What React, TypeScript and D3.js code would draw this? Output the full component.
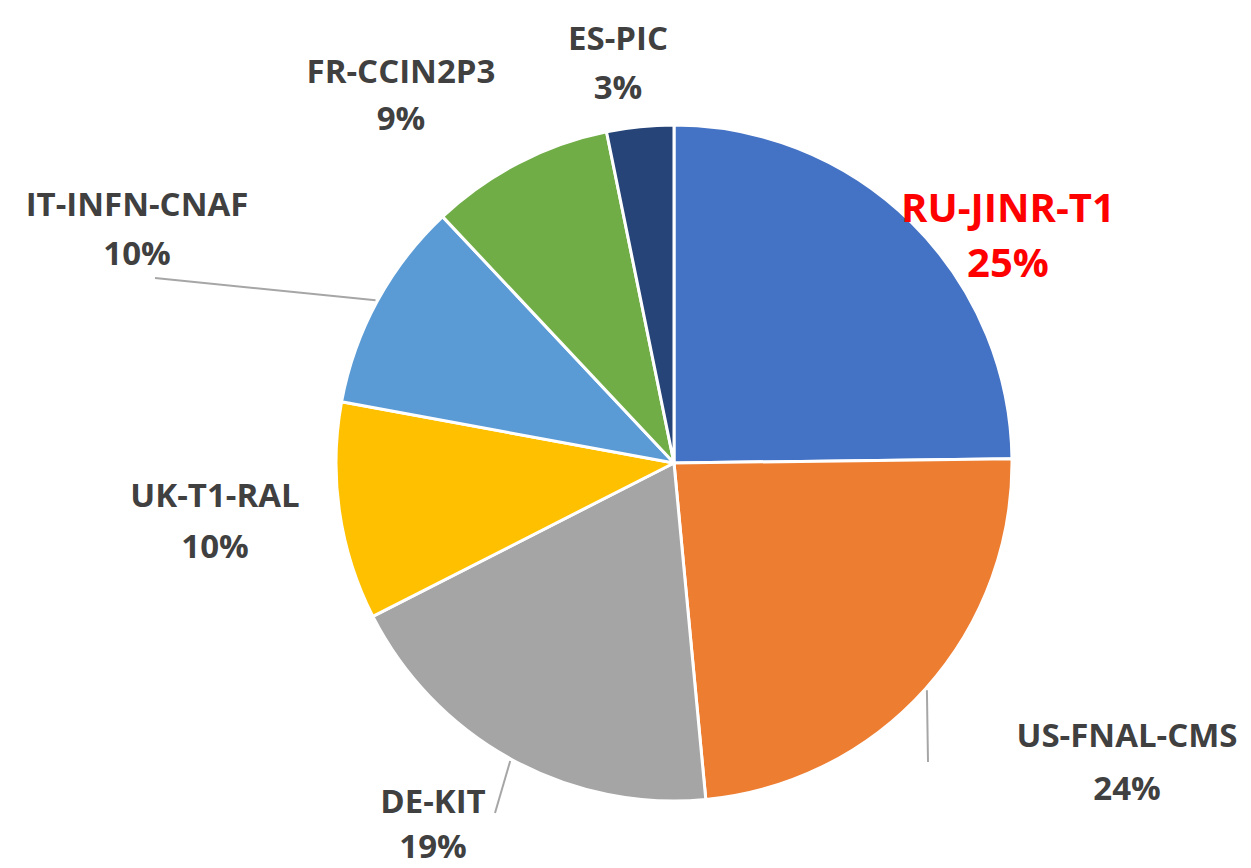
import React, { useEffect, useRef } from 'react';
import * as d3 from 'd3';

// Tier-1 sites and their share
const sites = ['RU-JINR-T1', 'US-FNAL-CMS', 'DE-KIT', 'UK-T1-RAL', 'IT-INFN-CNAF', 'FR-CCIN2P3', 'ES-PIC'];
const shares = [24.8, 23.7, 19.0, 10.4, 10.1, 8.8, 3.2];
const colors = ['#4472C4', '#ED7D31', '#A5A5A5', '#FFC000', '#5B9BD5', '#70AD47', '#264478'];

// label placement (centre x, first baseline) and optional leader end
const labelPos = [
  { x: 1008, y: 222, size: 40, gap: 55, color: '#FF0000' },
  { x: 1127, y: 747, size: 33, gap: 53, color: '#404040', leader: [928, 762] },
  { x: 433, y: 813, size: 33, gap: 45, color: '#404040', leader: [495, 813] },
  { x: 215, y: 507, size: 33, gap: 51, color: '#404040' },
  { x: 137, y: 216, size: 33, gap: 49, color: '#404040', leader: [155, 278] },
  { x: 401, y: 83, size: 33, gap: 47, color: '#404040' },
  { x: 618, y: 50, size: 33, gap: 49, color: '#404040' },
];

const W = 1251;
const H = 868;

export default function App() {
  const svgRef = useRef<SVGSVGElement>(null);

  useEffect(() => {
    const svg = d3.select(svgRef.current);
    svg.selectAll('*').remove();

    const cx = 674, cy = 463, r = 338;
    const data = sites.map((s, i) => ({ site: s, value: shares[i], i }));

    const pie = d3.pie<any>().sort(null).value(d => d.value);
    const arcs = pie(data);
    const arc = d3.arc<any>().innerRadius(0).outerRadius(r);

    const g = svg.append('g').attr('transform', `translate(${cx},${cy})`);

    g.selectAll('path')
      .data(arcs)
      .enter().append('path')
      .attr('d', arc)
      .attr('fill', d => colors[d.data.i])
      .attr('stroke', '#fff')
      .attr('stroke-width', 3)
      .attr('stroke-linejoin', 'round');

    // leader lines
    arcs.forEach(a => {
      const lp = labelPos[a.data.i];
      if (!lp.leader) return;
      const mid = (a.startAngle + a.endAngle) / 2;
      const x0 = cx + Math.sin(mid) * (r + 2);
      const y0 = cy - Math.cos(mid) * (r + 2);
      svg.append('line')
        .attr('x1', x0).attr('y1', y0)
        .attr('x2', lp.leader[0]).attr('y2', lp.leader[1])
        .attr('stroke', '#A6A6A6')
        .attr('stroke-width', 2);
    });

    // labels
    arcs.forEach(a => {
      const lp = labelPos[a.data.i];
      const t = svg.append('text')
        .attr('text-anchor', 'middle')
        .style('font-family', '"Open Sans", Lato, sans-serif')
        .style('font-weight', 700)
        .style('font-size', `${lp.size}px`)
        .style('fill', lp.color);
      t.append('tspan').attr('x', lp.x).attr('y', lp.y).text(a.data.site);
      t.append('tspan').attr('x', lp.x).attr('y', lp.y + lp.gap)
        .text(`${Math.round(a.data.value)}%`);
    });
  }, []);

  return (
    <svg
      ref={svgRef}
      width={W}
      height={H}
      style={{ position: 'absolute', left: 0, top: 0, background: '#fff' }}
    />
  );
}
